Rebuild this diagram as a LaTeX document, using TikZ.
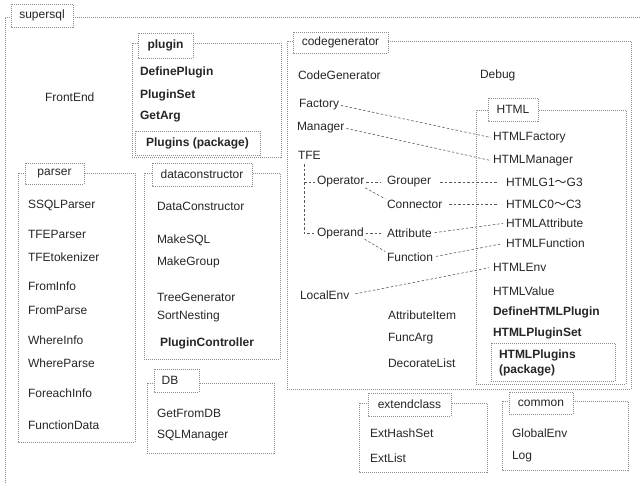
\documentclass[tikz,border=0pt]{standalone}
\usepackage{fontspec}
\setmainfont{Liberation Sans}
\newfontfamily\cjk{Noto Sans CJK JP}
\begin{document}
\begin{tikzpicture}[x=1pt,y=-1pt,
  every node/.style={inner sep=0pt,outer sep=0pt,font=\fontsize{12}{14}\selectfont,text=black!85},
  txt/.style={anchor=west},
  btxt/.style={anchor=west,font=\fontsize{12}{14}\selectfont\bfseries},
  frame/.style={draw=black!45,dash pattern=on 1pt off 1pt,line width=0.6pt},
  tab/.style={draw=black!45,dash pattern=on 1pt off 1pt,line width=0.6pt,fill=white},
  conn/.style={draw=black!65,dash pattern=on 2.5pt off 2pt,line width=0.6pt,shorten <=2pt,shorten >=2pt}]
\useasboundingbox (0,0) rectangle (640,483);
% outer
\draw[frame] (640,17) -- (5,17) -- (5,483);
\draw[tab] (11,4) rectangle (73,27);
\node (supersql) at (42,15.5) {supersql};
\node[txt] (frontend) at (45,97) {FrontEnd};
% plugin
\draw[frame] (132,43) rectangle (281,157);
\draw[tab] (138,33) rectangle (193,58);
\node[font=\fontsize{12}{14}\selectfont\bfseries] (plugin) at (165.5,45.5) {plugin};
\node[btxt] (defplugin) at (140,72) {DefinePlugin};
\node[btxt] (pluginset) at (140,95) {PluginSet};
\node[btxt] (getarg) at (140,117) {GetArg};
\draw[frame] (135,131) rectangle (260,155);
\node[font=\fontsize{12}{14}\selectfont\bfseries] (plugins) at (197.5,143) {Plugins (package)};
% codegenerator
\draw[frame] (287,41) rectangle (631,389);
\draw[tab] (293,32) rectangle (388,53);
\node (codegen) at (340.5,42.5) {codegenerator};
\node[txt] (codegenerator) at (298,75) {CodeGenerator};
\node[txt] (debug) at (480,75) {Debug};
\node[txt] (factory) at (299,105) {Factory};
\node[txt] (manager) at (297,128) {Manager};
\node[txt] (tfe) at (298,155) {TFE};
\node[txt] (operator) at (317,182) {Operator};
\node[txt] (grouper) at (387,182) {Grouper};
\node[txt] (connector) at (387,204) {Connector};
\node[txt] (operand) at (317,233) {Operand};
\node[txt] (attribute) at (387,233) {Attribute};
\node[txt] (function) at (387,257) {Function};
\node[txt] (localenv) at (300,295) {LocalEnv};
\node[txt] (attritem) at (388,315) {AttributeItem};
\node[txt] (funcarg) at (388,339) {FuncArg};
\node[txt] (declist) at (388,363) {DecorateList};
% HTML
\draw[frame] (476,110) rectangle (626,384);
\draw[tab] (488,98) rectangle (538,121);
\node (html) at (513,109.5) {HTML};
\node[txt] (hfactory) at (493,138) {HTMLFactory};
\node[txt] (hmanager) at (493,161) {HTMLManager};
\node[txt] (hg) at (506,182) {HTMLG1{\cjk 〜}G3};
\node[txt] (hc) at (506,204) {HTMLC0{\cjk 〜}C3};
\node[txt] (hattr) at (506,223) {HTMLAttribute};
\node[txt] (hfunc) at (506,243) {HTMLFunction};
\node[txt] (henv) at (493,267) {HTMLEnv};
\node[txt] (hvalue) at (493,291) {HTMLValue};
\node[btxt] (hdef) at (493,312) {DefineHTMLPlugin};
\node[btxt] (hset) at (493,333) {HTMLPluginSet};
\draw[frame] (491,343) rectangle (615,381);
\node[btxt] (hplugins) at (499,355) {HTMLPlugins};
\node[btxt] (hpack) at (499,370) {(package)};
% connectors
\draw[conn] (factory.east) -- (hfactory.west);
\draw[conn] (manager.east) -- (hmanager.west);
\coordinate (tfej) at (304,164);
\draw[conn,shorten <=0pt] (tfej) |- (operand.west);
\draw[conn,shorten <=0pt] (tfej |- operator.west) -- (operator.west);
\draw[conn,shorten >=6pt] (operator.east) -- (grouper.west);
\draw[conn,shorten <=1pt] (operator.south east) -- (connector.north west);
\draw[conn,shorten >=6pt] (operand.east) -- (attribute.west);
\draw[conn,shorten <=1pt] (operand.south east) -- (function.north west);
\draw[conn,shorten <=9pt,shorten >=8pt] (grouper.east) -- (hg.west);
\draw[conn,shorten <=7pt,shorten >=8pt] (connector.east) -- (hc.west);
\draw[conn,shorten <=3pt,shorten >=3pt] (attribute.east) -- (hattr.west);
\draw[conn,shorten <=3pt,shorten >=4pt] (function.east) -- (hfunc.west);
\draw[conn,shorten <=6pt,shorten >=4pt] (localenv.east) -- (henv.west);
% parser
\draw[frame] (18,173) rectangle (135,442);
\draw[tab] (25,163) rectangle (84,184);
\node (parser) at (54.5,173.5) {parser};
\node[txt] (ssql) at (28,205) {SSQLParser};
\node[txt] (tfeparser) at (28,234) {TFEParser};
\node[txt] (tfetok) at (28,257) {TFEtokenizer};
\node[txt] (frominfo) at (28,286) {FromInfo};
\node[txt] (fromparse) at (28,310) {FromParse};
\node[txt] (whereinfo) at (28,340) {WhereInfo};
\node[txt] (whereparse) at (28,363) {WhereParse};
\node[txt] (foreach) at (28,393) {ForeachInfo};
\node[txt] (funcdata) at (28,425) {FunctionData};
% dataconstructor
\draw[frame] (144,173) rectangle (280,359);
\draw[tab] (152,163) rectangle (252,186);
\node (datacons) at (202,174.5) {dataconstructor};
\node[txt] (dc) at (157,206) {DataConstructor};
\node[txt] (makesql) at (157,240) {MakeSQL};
\node[txt] (makegroup) at (157,262) {MakeGroup};
\node[txt] (treegen) at (157,297) {TreeGenerator};
\node[txt] (sortnest) at (157,316) {SortNesting};
\node[btxt] (plugctrl) at (160,343) {PluginController};
% DB
\draw[frame] (147,383) rectangle (274,453);
\draw[tab] (154,369) rectangle (199,392);
\node (db) at (170,380.5) {DB};
\node[txt] (getfromdb) at (157,413) {GetFromDB};
\node[txt] (sqlmgr) at (157,436) {SQLManager};
% extendclass
\draw[frame] (359,403) rectangle (487,472);
\draw[tab] (368,393) rectangle (451,416);
\node (extendclass) at (409.5,404.5) {extendclass};
\node[txt] (exthash) at (370,433) {ExtHashSet};
\node[txt] (extlist) at (370,458) {ExtList};
% common
\draw[frame] (502,401) rectangle (628,470);
\draw[tab] (509,392) rectangle (573,414);
\node (common) at (541,403) {common};
\node[txt] (globalenv) at (512,433) {GlobalEnv};
\node[txt] (log) at (512,457) {Log};
\end{tikzpicture}
\end{document}
